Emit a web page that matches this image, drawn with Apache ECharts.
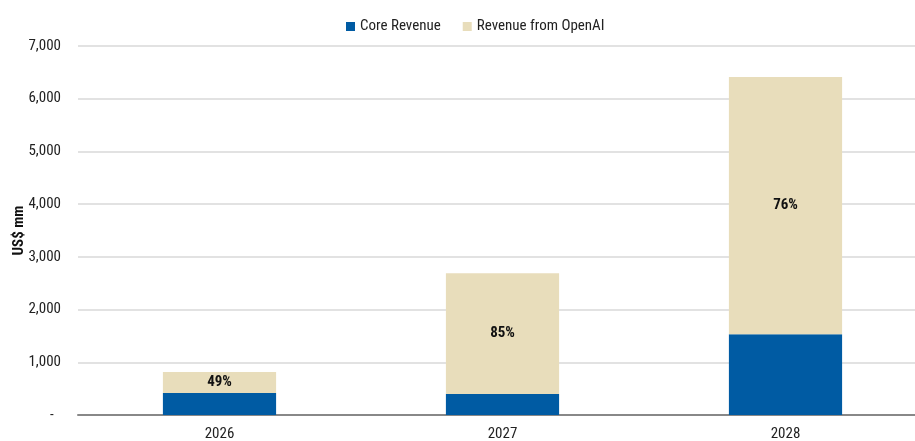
<!DOCTYPE html>
<html><head><meta charset="utf-8">
<script src="https://cdn.jsdelivr.net/npm/echarts@6/dist/echarts.min.js"></script>
<style>html,body{margin:0;padding:0;background:#fff}#c{width:915px;height:441px}</style>
</head><body><div id="c"></div>
<script>
const categories = ['2026', '2027', '2028'];
const coreRevenue = [415, 400, 1530];
const openAIRevenue = [400, 2290, 4880];
const openAIShareLabels = ['49%', '85%', '76%'];
const yTicks = [0, 1000, 2000, 3000, 4000, 5000, 6000, 7000];

const FONT = '"Liberation Sans Narrow", "Roboto Condensed", Roboto, sans-serif';
const chart = echarts.init(document.getElementById('c'));
chart.setOption({
  animation: false,
  textStyle: { fontFamily: FONT },
  legend: {
    top: 14, left: 341, itemWidth: 9, itemHeight: 9, itemGap: 22,
    icon: 'rect',
    textStyle: { fontFamily: FONT, fontSize: 15, color: '#222' },
    data: ['Core Revenue', 'Revenue from OpenAI']
  },
  grid: { left: 78, width: 849, top: 46, bottom: 26, containLabel: false, outerBoundsMode: 'none' },
  xAxis: {
    type: 'category', data: categories,
    axisTick: { show: false },
    axisLine: { lineStyle: { color: '#888', width: 2 } },
    axisLabel: { fontFamily: FONT, fontSize: 15, color: '#222', margin: 12 }
  },
  yAxis: {
    type: 'value', min: yTicks[0], max: yTicks[yTicks.length - 1], interval: 1000,
    name: 'US$ mm', nameLocation: 'middle', nameGap: 51, nameRotate: 90,
    nameMoveOverlap: false,
    nameTextStyle: { fontFamily: FONT, fontSize: 15, fontWeight: 'bold', color: '#111' },
    axisLine: { show: false }, axisTick: { show: false },
    splitLine: { lineStyle: { color: '#d9d9d9', width: 1.5 } },
    axisLabel: {
      fontFamily: FONT, fontSize: 15, color: '#222', margin: 17,
      formatter: v => v === 0 ? '{d|-}' : v.toLocaleString('en-US'),
      rich: { d: { fontFamily: FONT, fontSize: 15, color: '#222', width: 11, align: 'left' } }
    }
  },
  series: [
    {
      name: 'Core Revenue', type: 'bar', stack: 'rev', barWidth: '40%',
      itemStyle: { color: '#005BA3' },
      data: coreRevenue
    },
    {
      name: 'Revenue from OpenAI', type: 'bar', stack: 'rev', barWidth: '40%',
      itemStyle: { color: '#E8DDBB' },
      label: {
        show: true, position: 'inside', fontFamily: FONT, fontSize: 15,
        fontWeight: 'bold', color: '#111',
        formatter: p => openAIShareLabels[p.dataIndex]
      },
      data: openAIRevenue
    }
  ]
});
</script></body></html>
